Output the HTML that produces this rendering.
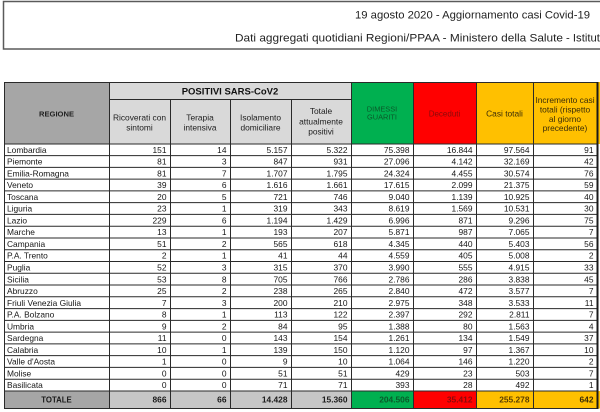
<!DOCTYPE html>
<html>
<head>
<meta charset="utf-8">
<style>
html,body{margin:0;padding:0;background:#fff;}
body{width:600px;height:412px;overflow:hidden;}
svg{display:block;font-family:"Liberation Sans",sans-serif;}
.d text{font-size:8.4px;fill:#161616;}
.d text.n{text-anchor:end;}
.h{font-size:8.4px;fill:#1e1e1e;text-anchor:middle;}
</style>
</head>
<body>
<svg width="600" height="412" viewBox="0 0 600 412" xmlns="http://www.w3.org/2000/svg">
<rect x="0" y="0" width="600" height="412" fill="#fff"/>
<!-- title box -->
<rect x="3.5" y="1.5" width="610" height="47.5" fill="#fff" stroke="#5a5a5a" stroke-width="1.5"/>
<text x="355" y="18.5" font-size="11.3" fill="#222" textLength="235" lengthAdjust="spacingAndGlyphs">19 agosto 2020 - Aggiornamento casi Covid-19</text>
<text x="235" y="41.5" font-size="11.3" fill="#222" textLength="328" lengthAdjust="spacingAndGlyphs">Dati aggregati quotidiani Regioni/PPAA - Ministero della Salute</text>
<text x="566" y="41.5" font-size="11.3" fill="#222">- Istituto Superiore di Sanità</text>

<!-- header backgrounds -->
<rect x="4" y="82" width="105" height="62" fill="#a6a6a6"/>
<rect x="109" y="82" width="242" height="62" fill="#d9d9d9"/>
<rect x="351" y="82" width="62" height="62" fill="#00b050"/>
<rect x="413" y="82" width="63" height="62" fill="#ff0000"/>
<rect x="476" y="82" width="124" height="62" fill="#ffc000"/>

<!-- total row backgrounds -->
<rect x="4" y="391" width="105" height="17.5" fill="#a6a6a6"/>
<rect x="109" y="391" width="242" height="17.5" fill="#c6c6c6"/>
<rect x="351" y="391" width="62" height="17.5" fill="#00b050"/>
<rect x="413" y="391" width="63" height="17.5" fill="#ff0000"/>
<rect x="476" y="391" width="124" height="17.5" fill="#ffc000"/>

<!-- grid lines -->
<g stroke="#2a2a2a" stroke-width="1" fill="none">
<rect x="4.5" y="82.5" width="592.5" height="326"/>
<line x1="109.5" y1="82" x2="109.5" y2="408.5"/>
<line x1="170.5" y1="99" x2="170.5" y2="408.5"/>
<line x1="230.5" y1="99" x2="230.5" y2="408.5"/>
<line x1="291.5" y1="99" x2="291.5" y2="408.5"/>
<line x1="351.5" y1="82" x2="351.5" y2="408.5"/>
<line x1="413.5" y1="82" x2="413.5" y2="408.5"/>
<line x1="476.5" y1="82" x2="476.5" y2="408.5"/>
<line x1="533.5" y1="82" x2="533.5" y2="408.5"/>
<line x1="109" y1="99.5" x2="351" y2="99.5"/>
<line x1="4" y1="144" x2="597" y2="144"/>
<line x1="4" y1="155.57" x2="597" y2="155.57"/>
<line x1="4" y1="167.34" x2="597" y2="167.34"/>
<line x1="4" y1="179.11" x2="597" y2="179.11"/>
<line x1="4" y1="190.88" x2="597" y2="190.88"/>
<line x1="4" y1="202.65" x2="597" y2="202.65"/>
<line x1="4" y1="214.42" x2="597" y2="214.42"/>
<line x1="4" y1="226.19" x2="597" y2="226.19"/>
<line x1="4" y1="237.96" x2="597" y2="237.96"/>
<line x1="4" y1="249.73" x2="597" y2="249.73"/>
<line x1="4" y1="261.5" x2="597" y2="261.5"/>
<line x1="4" y1="273.27" x2="597" y2="273.27"/>
<line x1="4" y1="285.04" x2="597" y2="285.04"/>
<line x1="4" y1="296.81" x2="597" y2="296.81"/>
<line x1="4" y1="308.58" x2="597" y2="308.58"/>
<line x1="4" y1="320.35" x2="597" y2="320.35"/>
<line x1="4" y1="332.12" x2="597" y2="332.12"/>
<line x1="4" y1="343.89" x2="597" y2="343.89"/>
<line x1="4" y1="355.66" x2="597" y2="355.66"/>
<line x1="4" y1="367.43" x2="597" y2="367.43"/>
<line x1="4" y1="379.2" x2="597" y2="379.2"/>
<line x1="4" y1="391" x2="597" y2="391"/>
</g>
<line x1="597.5" y1="82" x2="597.5" y2="409" stroke="#1a1a1a" stroke-width="2"/>

<!-- header text -->
<text x="56.5" y="116.7" font-size="7.6" font-weight="bold" fill="#222" text-anchor="middle">REGIONE</text>
<text x="230" y="94.6" font-size="9.5" font-weight="bold" fill="#111" text-anchor="middle">POSITIVI SARS-CoV2</text>
<text class="h" x="139.5" y="120.7">Ricoverati con</text>
<text class="h" x="139.5" y="130.7">sintomi</text>
<text class="h" x="200" y="120.7">Terapia</text>
<text class="h" x="200" y="130.7">intensiva</text>
<text class="h" x="260.5" y="120.7">Isolamento</text>
<text class="h" x="260.5" y="130.7">domiciliare</text>
<text class="h" x="321" y="114.2">Totale</text>
<text class="h" x="321" y="124.5">attualmente</text>
<text class="h" x="321" y="134.6">positivi</text>
<text x="382" y="111.3" font-size="7.4" fill="#0a5a2a" text-anchor="middle">DIMESSI</text>
<text x="382" y="119.6" font-size="7.4" fill="#0a5a2a" text-anchor="middle">GUARITI</text>
<text x="444.5" y="116.3" font-size="8" fill="#8a0a0a" text-anchor="middle">Deceduti</text>
<text x="504.5" y="116.3" font-size="8.4" fill="#3a2c08" text-anchor="middle">Casi totali</text>
<text x="565" y="103.2" font-size="8.4" fill="#3a2c08" text-anchor="middle">Incremento casi</text>
<text x="565" y="112.5" font-size="8.4" fill="#3a2c08" text-anchor="middle">totali (rispetto</text>
<text x="565" y="121.8" font-size="8.4" fill="#3a2c08" text-anchor="middle">al giorno</text>
<text x="565" y="131.1" font-size="8.4" fill="#3a2c08" text-anchor="middle">precedente)</text>

<!-- data rows -->
<g class="d">
<g transform="translate(0,152.8)"><text x="7">Lombardia</text><text class="n" x="166.5">151</text><text class="n" x="226.5">14</text><text class="n" x="287.5">5.157</text><text class="n" x="347.5">5.322</text><text class="n" x="409.5">75.398</text><text class="n" x="472.5">16.844</text><text class="n" x="529.5">97.564</text><text class="n" x="593.5">91</text></g>
<g transform="translate(0,164.6)"><text x="7">Piemonte</text><text class="n" x="166.5">81</text><text class="n" x="226.5">3</text><text class="n" x="287.5">847</text><text class="n" x="347.5">931</text><text class="n" x="409.5">27.096</text><text class="n" x="472.5">4.142</text><text class="n" x="529.5">32.169</text><text class="n" x="593.5">42</text></g>
<g transform="translate(0,176.3)"><text x="7">Emilia-Romagna</text><text class="n" x="166.5">81</text><text class="n" x="226.5">7</text><text class="n" x="287.5">1.707</text><text class="n" x="347.5">1.795</text><text class="n" x="409.5">24.324</text><text class="n" x="472.5">4.455</text><text class="n" x="529.5">30.574</text><text class="n" x="593.5">76</text></g>
<g transform="translate(0,188.1)"><text x="7">Veneto</text><text class="n" x="166.5">39</text><text class="n" x="226.5">6</text><text class="n" x="287.5">1.616</text><text class="n" x="347.5">1.661</text><text class="n" x="409.5">17.615</text><text class="n" x="472.5">2.099</text><text class="n" x="529.5">21.375</text><text class="n" x="593.5">59</text></g>
<g transform="translate(0,199.9)"><text x="7">Toscana</text><text class="n" x="166.5">20</text><text class="n" x="226.5">5</text><text class="n" x="287.5">721</text><text class="n" x="347.5">746</text><text class="n" x="409.5">9.040</text><text class="n" x="472.5">1.139</text><text class="n" x="529.5">10.925</text><text class="n" x="593.5">40</text></g>
<g transform="translate(0,211.7)"><text x="7">Liguria</text><text class="n" x="166.5">23</text><text class="n" x="226.5">1</text><text class="n" x="287.5">319</text><text class="n" x="347.5">343</text><text class="n" x="409.5">8.619</text><text class="n" x="472.5">1.569</text><text class="n" x="529.5">10.531</text><text class="n" x="593.5">30</text></g>
<g transform="translate(0,223.4)"><text x="7">Lazio</text><text class="n" x="166.5">229</text><text class="n" x="226.5">6</text><text class="n" x="287.5">1.194</text><text class="n" x="347.5">1.429</text><text class="n" x="409.5">6.996</text><text class="n" x="472.5">871</text><text class="n" x="529.5">9.296</text><text class="n" x="593.5">75</text></g>
<g transform="translate(0,235.2)"><text x="7">Marche</text><text class="n" x="166.5">13</text><text class="n" x="226.5">1</text><text class="n" x="287.5">193</text><text class="n" x="347.5">207</text><text class="n" x="409.5">5.871</text><text class="n" x="472.5">987</text><text class="n" x="529.5">7.065</text><text class="n" x="593.5">7</text></g>
<g transform="translate(0,247.0)"><text x="7">Campania</text><text class="n" x="166.5">51</text><text class="n" x="226.5">2</text><text class="n" x="287.5">565</text><text class="n" x="347.5">618</text><text class="n" x="409.5">4.345</text><text class="n" x="472.5">440</text><text class="n" x="529.5">5.403</text><text class="n" x="593.5">56</text></g>
<g transform="translate(0,258.7)"><text x="7">P.A. Trento</text><text class="n" x="166.5">2</text><text class="n" x="226.5">1</text><text class="n" x="287.5">41</text><text class="n" x="347.5">44</text><text class="n" x="409.5">4.559</text><text class="n" x="472.5">405</text><text class="n" x="529.5">5.008</text><text class="n" x="593.5">2</text></g>
<g transform="translate(0,270.5)"><text x="7">Puglia</text><text class="n" x="166.5">52</text><text class="n" x="226.5">3</text><text class="n" x="287.5">315</text><text class="n" x="347.5">370</text><text class="n" x="409.5">3.990</text><text class="n" x="472.5">555</text><text class="n" x="529.5">4.915</text><text class="n" x="593.5">33</text></g>
<g transform="translate(0,282.3)"><text x="7">Sicilia</text><text class="n" x="166.5">53</text><text class="n" x="226.5">8</text><text class="n" x="287.5">705</text><text class="n" x="347.5">766</text><text class="n" x="409.5">2.786</text><text class="n" x="472.5">286</text><text class="n" x="529.5">3.838</text><text class="n" x="593.5">45</text></g>
<g transform="translate(0,294.0)"><text x="7">Abruzzo</text><text class="n" x="166.5">25</text><text class="n" x="226.5">2</text><text class="n" x="287.5">238</text><text class="n" x="347.5">265</text><text class="n" x="409.5">2.840</text><text class="n" x="472.5">472</text><text class="n" x="529.5">3.577</text><text class="n" x="593.5">7</text></g>
<g transform="translate(0,305.8)"><text x="7">Friuli Venezia Giulia</text><text class="n" x="166.5">7</text><text class="n" x="226.5">3</text><text class="n" x="287.5">200</text><text class="n" x="347.5">210</text><text class="n" x="409.5">2.975</text><text class="n" x="472.5">348</text><text class="n" x="529.5">3.533</text><text class="n" x="593.5">11</text></g>
<g transform="translate(0,317.6)"><text x="7">P.A. Bolzano</text><text class="n" x="166.5">8</text><text class="n" x="226.5">1</text><text class="n" x="287.5">113</text><text class="n" x="347.5">122</text><text class="n" x="409.5">2.397</text><text class="n" x="472.5">292</text><text class="n" x="529.5">2.811</text><text class="n" x="593.5">7</text></g>
<g transform="translate(0,329.4)"><text x="7">Umbria</text><text class="n" x="166.5">9</text><text class="n" x="226.5">2</text><text class="n" x="287.5">84</text><text class="n" x="347.5">95</text><text class="n" x="409.5">1.388</text><text class="n" x="472.5">80</text><text class="n" x="529.5">1.563</text><text class="n" x="593.5">4</text></g>
<g transform="translate(0,341.1)"><text x="7">Sardegna</text><text class="n" x="166.5">11</text><text class="n" x="226.5">0</text><text class="n" x="287.5">143</text><text class="n" x="347.5">154</text><text class="n" x="409.5">1.261</text><text class="n" x="472.5">134</text><text class="n" x="529.5">1.549</text><text class="n" x="593.5">37</text></g>
<g transform="translate(0,352.9)"><text x="7">Calabria</text><text class="n" x="166.5">10</text><text class="n" x="226.5">1</text><text class="n" x="287.5">139</text><text class="n" x="347.5">150</text><text class="n" x="409.5">1.120</text><text class="n" x="472.5">97</text><text class="n" x="529.5">1.367</text><text class="n" x="593.5">10</text></g>
<g transform="translate(0,364.7)"><text x="7">Valle d'Aosta</text><text class="n" x="166.5">1</text><text class="n" x="226.5">0</text><text class="n" x="287.5">9</text><text class="n" x="347.5">10</text><text class="n" x="409.5">1.064</text><text class="n" x="472.5">146</text><text class="n" x="529.5">1.220</text><text class="n" x="593.5">2</text></g>
<g transform="translate(0,376.4)"><text x="7">Molise</text><text class="n" x="166.5">0</text><text class="n" x="226.5">0</text><text class="n" x="287.5">51</text><text class="n" x="347.5">51</text><text class="n" x="409.5">429</text><text class="n" x="472.5">23</text><text class="n" x="529.5">503</text><text class="n" x="593.5">7</text></g>
<g transform="translate(0,388.2)"><text x="7">Basilicata</text><text class="n" x="166.5">0</text><text class="n" x="226.5">0</text><text class="n" x="287.5">71</text><text class="n" x="347.5">71</text><text class="n" x="409.5">393</text><text class="n" x="472.5">28</text><text class="n" x="529.5">492</text><text class="n" x="593.5">1</text></g>
</g>

<!-- totals -->
<g font-size="8.4" font-weight="bold" transform="translate(0,402.6)">
<text x="56.5" fill="#1a1a1a" text-anchor="middle" font-size="7.8">TOTALE</text>
<text x="166.5" fill="#1a1a1a" text-anchor="end">866</text>
<text x="226.5" fill="#1a1a1a" text-anchor="end">66</text>
<text x="287.5" fill="#1a1a1a" text-anchor="end">14.428</text>
<text x="347.5" fill="#1a1a1a" text-anchor="end">15.360</text>
<text x="409.5" fill="#0a5a2a" text-anchor="end">204.506</text>
<text x="472.5" fill="#8a0a0a" text-anchor="end">35.412</text>
<text x="529.5" fill="#5a3e00" text-anchor="end">255.278</text>
<text x="593.5" fill="#3a2c08" text-anchor="end">642</text>
</g>
</svg>
</body>
</html>
